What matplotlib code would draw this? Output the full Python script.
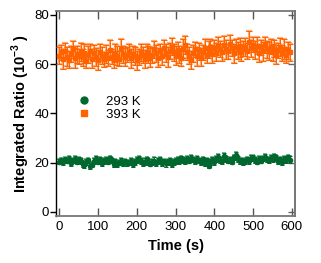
import numpy as np
import matplotlib
matplotlib.use("Agg")
import matplotlib.pyplot as plt

plt.rcParams['font.family'] = ['Liberation Sans', 'DejaVu Sans']
plt.rcParams['mathtext.fontset'] = 'custom'
plt.rcParams['mathtext.rm'] = 'Liberation Sans'
plt.rcParams['mathtext.bf'] = 'Liberation Sans:bold'

# sampling times (s), one point every 5 s
time_s = np.arange(0, 600, 5)

# 293 K series (10^-3)
ratio_293 = [
    20.5, 21.0, 20.2, 21.3, 20.8, 21.5, 20.0, 20.9, 21.4, 20.3, 21.1, 20.6,
    19.5, 19.0, 20.2, 21.0, 18.5, 19.2, 20.8, 21.6, 20.4, 21.2, 19.8, 20.7,
    21.3, 20.5, 21.8, 20.9, 19.6, 20.3, 19.4, 20.0, 20.8, 19.7, 20.4, 19.9,
    20.1, 20.6, 19.3, 20.2, 21.0, 21.6, 20.7, 19.8, 20.5, 21.4, 20.3, 19.6,
    20.4, 20.9, 19.8, 20.6, 21.2, 20.0, 20.5, 19.7, 20.3, 20.9, 19.5, 20.4,
    20.8, 21.4, 20.6, 21.9, 21.2, 20.7, 21.5, 20.9, 22.0, 21.3, 20.6, 21.7,
    20.9, 20.2, 21.4, 19.8, 20.6, 18.8, 20.3, 21.2, 20.5, 21.6, 22.4, 21.0,
    20.6, 22.8, 21.5, 20.9, 21.3, 20.4, 22.2, 23.0, 21.6, 20.8, 21.1, 20.3,
    20.7, 21.4, 20.6, 21.9, 22.1, 21.2, 20.5, 21.6, 20.9, 21.8, 22.3, 21.4,
    21.0, 22.0, 21.5, 22.6, 21.8, 20.8, 21.4, 20.2, 21.7, 21.0, 22.2, 21.3,
]
err_293 = [
    1.2, 1.1, 1.3, 1.2, 1.0, 1.2, 1.3, 1.1, 1.2, 1.0, 1.3, 1.2,
    1.1, 1.2, 1.3, 1.0, 1.2, 1.1, 1.2, 1.3, 1.1, 1.0, 1.2, 1.3,
    1.2, 1.1, 1.0, 1.2, 1.3, 1.1, 1.2, 1.0, 1.3, 1.2, 1.1, 1.2,
    1.0, 1.2, 1.1, 1.3, 1.2, 1.0, 1.1, 1.2, 1.3, 1.1, 1.2, 1.0,
    1.2, 1.3, 1.1, 1.2, 1.0, 1.2, 1.1, 1.3, 1.2, 1.0, 1.1, 1.2,
    1.3, 1.1, 1.2, 1.0, 1.2, 1.3, 1.1, 1.2, 1.0, 1.1, 1.3, 1.2,
    1.1, 1.2, 1.0, 1.3, 1.2, 1.1, 1.2, 1.0, 1.3, 1.1, 1.2, 1.2,
    1.0, 1.2, 1.3, 1.1, 1.2, 1.0, 1.1, 1.2, 1.3, 1.2, 1.0, 1.1,
    1.2, 1.1, 1.3, 1.2, 1.0, 1.2, 1.1, 1.3, 1.2, 1.0, 1.2, 1.1,
    1.3, 1.2, 1.0, 1.1, 1.2, 1.3, 1.1, 1.2, 1.0, 1.2, 1.1, 1.3,
]

# 393 K series (10^-3)
ratio_393 = [
    63.5, 64.8, 62.0, 65.5, 63.0, 61.8, 64.2, 66.0, 62.5, 64.0, 63.2, 65.0,
    62.8, 64.5, 61.5, 63.8, 65.2, 62.2, 64.6, 63.0, 61.8, 64.9, 63.4, 62.0,
    64.3, 62.6, 65.8, 63.1, 61.9, 64.7, 63.5, 62.3, 66.2, 64.0, 62.8, 63.9,
    65.0, 62.4, 64.2, 63.3, 61.6, 62.9, 64.8, 63.6, 62.1, 65.1, 64.0, 62.6,
    63.8, 66.0, 64.4, 62.7, 65.3, 63.2, 66.5, 64.6, 63.0, 65.4, 67.2, 64.8,
    63.5, 65.9, 64.0, 62.5, 66.3, 67.8, 65.0, 63.4, 61.8, 64.5, 66.0, 63.2,
    65.2, 62.9, 64.8, 66.4, 63.7, 65.9, 67.0, 64.3, 66.6, 65.0, 67.5, 66.2,
    64.8, 67.9, 66.0, 65.2, 68.4, 66.7, 64.5, 67.2, 65.6, 66.8, 64.9, 66.3,
    67.0, 65.4, 69.2, 66.5, 68.0, 65.8, 67.5, 64.6, 66.9, 65.2, 67.8, 66.0,
    65.5, 67.2, 64.8, 66.3, 63.9, 65.7, 67.0, 64.5, 66.2, 63.8, 65.6, 64.9,
]
err_393 = [
    3.5, 3.0, 4.0, 3.2, 3.8, 3.4, 3.1, 3.6, 4.2, 3.3, 3.0, 3.7,
    3.4, 3.9, 3.2, 3.5, 3.0, 3.8, 3.3, 3.6, 4.1, 3.2, 3.5, 3.0,
    3.7, 3.3, 3.9, 3.1, 3.5, 3.4, 3.8, 3.2, 4.0, 3.3, 3.6, 3.1,
    3.4, 3.8, 3.2, 3.5, 3.9, 3.1, 3.6, 3.3, 3.7, 3.0, 3.5, 3.8,
    3.2, 3.6, 3.4, 3.9, 3.1, 3.5, 3.3, 3.7, 4.0, 3.2, 3.6, 3.4,
    3.8, 3.1, 3.5, 3.3, 3.9, 3.6, 3.2, 3.4, 3.7, 3.5, 3.1, 3.8,
    3.3, 3.6, 3.2, 3.9, 3.4, 3.5, 3.1, 3.7, 3.3, 3.8, 3.6, 3.2,
    3.5, 3.4, 3.9, 3.1, 3.6, 3.3, 3.8, 3.2, 3.5, 3.7, 3.4, 3.0,
    3.6, 3.3, 4.3, 3.5, 3.2, 3.8, 3.4, 3.6, 3.1, 3.9, 3.3, 3.5,
    3.7, 3.2, 3.6, 3.4, 3.8, 3.1, 3.5, 3.3, 3.9, 3.2, 3.6, 3.4,
]

green = '#00672f'
green_light = '#6fb28c'
orange = '#ff6300'
orange_light = '#ffae7a'

fig = plt.figure(figsize=(3.21, 2.63), dpi=100)
ax = fig.add_axes([0.175, 0.179, 0.744, 0.779])

# light wide bars under dark thin ones
ax.errorbar(time_s, ratio_393, yerr=err_393, fmt='none', ecolor=orange_light,
            elinewidth=1.6, capsize=2, capthick=1.6, zorder=2)
ax.errorbar(time_s, ratio_393, yerr=err_393, fmt='s', color=orange, ms=3,
            mec=orange, ecolor=orange, elinewidth=0.7, capsize=2, capthick=0.7,
            zorder=3)
ax.errorbar(time_s, ratio_293, yerr=err_293, fmt='none', ecolor=green_light,
            elinewidth=1.4, capsize=1.5, capthick=1.4, zorder=2)
ax.errorbar(time_s, ratio_293, yerr=err_293, fmt='o', color=green, ms=3,
            mec=green, ecolor=green, elinewidth=0.7, capsize=1.5, capthick=0.7,
            zorder=3)

# legend
h1 = ax.plot([], [], 'o', color=green, ms=5, label='293 K')[0]
h2 = ax.plot([], [], 's', color=orange, ms=5, label='393 K')[0]
ax.legend(handles=[h1, h2], loc='upper left', bbox_to_anchor=(0.065, 0.62),
          frameon=False, fontsize=9.5, handlelength=0.8, handletextpad=1.3,
          labelspacing=0.05, borderpad=0)

ax.set_xlim(-8, 608)
ax.set_ylim(-1.6, 81.6)
ax.set_xticks([0, 100, 200, 300, 400, 500, 600])
ax.set_yticks([0, 20, 40, 60, 80])
ax.tick_params(axis='x', direction='in', length=6, width=1, colors='#555555',
               labelcolor='black', labelsize=9.5, top=True, pad=4)
ax.tick_params(axis='y', direction='out', length=4, width=1, colors='black',
               labelsize=9.5, pad=1)

# right-hand ticks point inward
sec = ax.secondary_yaxis('right')
sec.set_yticks([0, 20, 40, 60, 80])
sec.tick_params(direction='in', length=5, width=1, colors='#666666',
                labelright=False)
sec.spines['right'].set_color('#777777')
sec.spines['right'].set_linewidth(1.3)

for sp in ['top', 'right', 'bottom']:
    ax.spines[sp].set_color('#777777')
    ax.spines[sp].set_linewidth(1.3)
ax.spines['left'].set_color('black')
ax.spines['left'].set_linewidth(1.0)

ax.set_xlabel('Time (s)', fontsize=10.5, fontweight='bold', labelpad=4)
ax.set_ylabel('Integrated Ratio (10$^{\\mathbf{-3}}$ )', fontsize=10.5,
              fontweight='bold', labelpad=2)

fig.savefig('out.png', dpi=100)
